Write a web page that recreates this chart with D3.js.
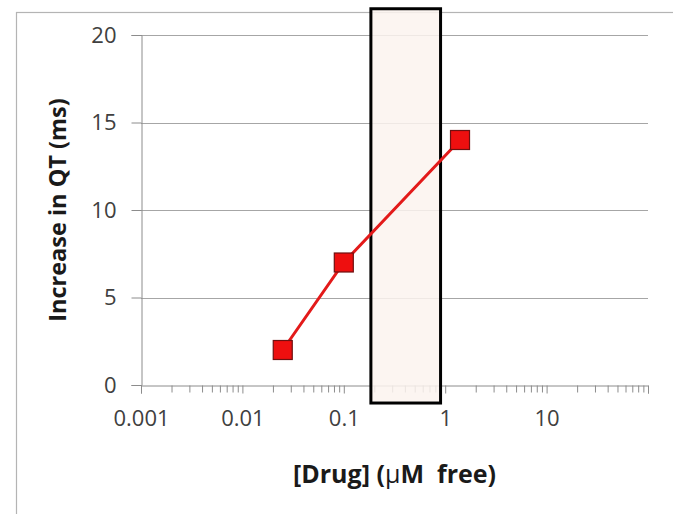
<!DOCTYPE html>
<html>
<head>
<meta charset="utf-8">
<script src="https://cdn.jsdelivr.net/npm/d3@7"></script>
<style>
  body { margin: 0; background: #fff; }
  text { font-family: "Open Sans", sans-serif; }
</style>
</head>
<body>
<div id="chart"></div>
<script>
// data
let concentrations = [0.025, 0.1, 1.4];
let qtIncrease = [2, 7, 14];
let yTicks = [0, 5, 10, 15, 20];
let xTicks = [0.001, 0.01, 0.1, 1, 10];
let xTickLabels = ['0.001', '0.01', '0.1', '1', '10'];
// shaded band (free concentration range)
let bandX = [0.185, 0.9];
let bandY = [-1.03, 21.5];

let totalWidth = 673;
let totalHeight = 514;
let margins = { top: 35, right: 25, bottom: 129, left: 141 };

let svg = d3.select('#chart')
    .append('svg')
    .attr('width', totalWidth)
    .attr('height', totalHeight);

// outer chart border
svg.append('rect')
    .attr('x', 16.5)
    .attr('y', 12.5)
    .attr('width', totalWidth)
    .attr('height', totalHeight)
    .style('fill', 'none')
    .style('stroke', '#b4b4b4')
    .style('stroke-width', 1.2);

let xScale = d3.scaleLog()
    .domain([0.001, 100])
    .range([margins.left, totalWidth - margins.right]);

let yScale = d3.scaleLinear()
    .domain([0, 20])
    .range([totalHeight - margins.bottom, margins.top]);

// gridlines
svg.append('g')
    .selectAll('line')
    .data(yTicks.filter(d => d > 0))
    .enter()
    .append('line')
    .attr('x1', xScale.range()[0])
    .attr('x2', xScale.range()[1])
    .attr('y1', d => Math.round(yScale(d)) + 0.5)
    .attr('y2', d => Math.round(yScale(d)) + 0.5)
    .style('stroke', '#a6a6a6')
    .style('stroke-width', 1);

// y axis
let yAxis = d3.axisLeft(yScale)
    .tickValues(yTicks)
    .tickSize(10)
    .tickPadding(15);

let yAxisG = svg.append('g')
    .attr('transform', `translate(${margins.left + 0.5}, 0)`)
    .call(yAxis);
yAxisG.select('.domain').style('stroke', '#8c8c8c');
yAxisG.selectAll('.tick line').style('stroke', '#8c8c8c');
yAxisG.selectAll('.tick text')
    .style('font-size', '22px')
    .style('fill', '#404040');

// x axis: majors with labels, minors 2..9 per decade
let minorTicks = [];
for (let p = -3; p < 2; p++) {
    for (let m = 2; m <= 9; m++) {
        minorTicks.push(m * Math.pow(10, p));
    }
}

let xAxisY = Math.round(yScale(0)) + 0.5;

let xMinor = svg.append('g')
    .attr('transform', `translate(0, ${xAxisY})`)
    .call(d3.axisBottom(xScale).tickValues(minorTicks).tickSize(7).tickFormat(''));
xMinor.select('.domain').remove();
xMinor.selectAll('.tick line').style('stroke', '#8c8c8c');

let xAxisG = svg.append('g')
    .attr('transform', `translate(0, ${xAxisY})`)
    .call(d3.axisBottom(xScale)
        .tickValues(xTicks.concat([100]))
        .tickSize(8)
        .tickPadding(17)
        .tickFormat((d, i) => xTickLabels[i] || ''));
xAxisG.select('.domain').style('stroke', '#8c8c8c');
xAxisG.selectAll('.tick line').style('stroke', '#8c8c8c');
xAxisG.selectAll('.tick text')
    .style('font-size', '22px')
    .style('fill', '#404040');

// shaded box
svg.append('rect')
    .attr('x', xScale(bandX[0]))
    .attr('y', yScale(bandY[1]))
    .attr('width', xScale(bandX[1]) - xScale(bandX[0]))
    .attr('height', yScale(bandY[0]) - yScale(bandY[1]))
    .style('fill', '#fcf3ee')
    .style('fill-opacity', 0.85)
    .style('stroke', '#000')
    .style('stroke-width', 3);

// series line
let points = concentrations.map((c, i) => ({ x: c, y: qtIncrease[i] }));

let line = d3.line()
    .x(d => xScale(d.x))
    .y(d => yScale(d.y));

svg.append('path')
    .datum(points)
    .attr('d', line)
    .style('fill', 'none')
    .style('stroke', '#e31a1a')
    .style('stroke-width', 3);

// square markers
let size = 19;
svg.append('g')
    .selectAll('rect')
    .data(points)
    .enter()
    .append('rect')
    .attr('x', d => xScale(d.x) - size / 2)
    .attr('y', d => yScale(d.y) - size / 2)
    .attr('width', size)
    .attr('height', size)
    .style('fill', '#ee0f0f')
    .style('stroke', '#6e1010')
    .style('stroke-width', 1.2);

// axis titles
svg.append('text')
    .attr('text-anchor', 'middle')
    .attr('transform', `translate(66, ${(yScale(0) + yScale(20)) / 2}) rotate(-90)`)
    .style('font-size', '23.5px')
    .style('font-weight', 'bold')
    .style('fill', '#1a1a1a')
    .text('Increase in QT (ms)');

let xTitle = svg.append('text')
    .attr('text-anchor', 'middle')
    .attr('x', (xScale.range()[0] + xScale.range()[1]) / 2)
    .attr('y', 483)
    .style('font-size', '25px')
    .style('font-weight', 'bold')
    .style('fill', '#1a1a1a');
xTitle.append('tspan').text('[Drug] (');
xTitle.append('tspan').style('font-weight', 'normal').text('\u03BC');
xTitle.append('tspan').text('M\u00A0 free)');
</script>
</body>
</html>
